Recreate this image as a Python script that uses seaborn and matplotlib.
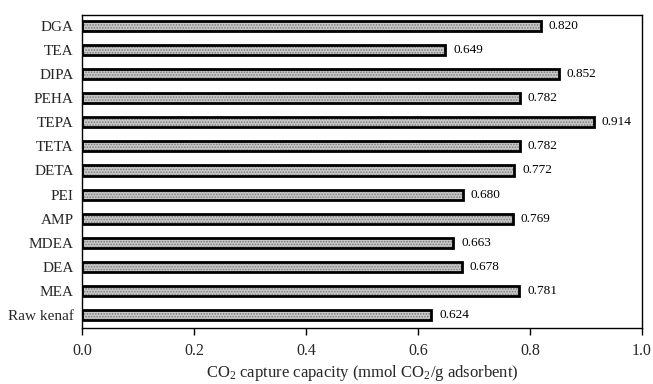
import matplotlib
matplotlib.use("Agg")
import matplotlib.pyplot as plt
import seaborn as sns
import pandas as pd

categories = ["DGA", "TEA", "DIPA", "PEHA", "TEPA", "TETA", "DETA", "PEI",
              "AMP", "MDEA", "DEA", "MEA", "Raw kenaf"]
values = [0.820, 0.649, 0.852, 0.782, 0.914, 0.782, 0.772, 0.680,
          0.769, 0.663, 0.678, 0.781, 0.624]
value_labels = ["0.820", "0.649", "0.852", "0.782", "0.914", "0.782", "0.772",
                "0.680", "0.769", "0.663", "0.678", "0.781", "0.624"]
xticks = [0.0, 0.2, 0.4, 0.6, 0.8, 1.0]

df = pd.DataFrame({"cat": categories, "val": values})

sns.set_theme(style="white")
plt.rcParams["font.family"] = ["Liberation Serif", "DejaVu Serif"]
plt.rcParams["mathtext.fontset"] = "custom"
plt.rcParams["mathtext.rm"] = "Liberation Serif"
plt.rcParams["mathtext.it"] = "Liberation Serif:italic"
plt.rcParams["hatch.linewidth"] = 0.8

fig = plt.figure(figsize=(6.53, 3.84), dpi=100)
ax = fig.add_axes([0.1256, 0.146, 0.8574, 0.815])

# hatched fill layer
sns.barplot(data=df, x="val", y="cat", orient="h", color="#c8c8c8",
            width=0.42, linewidth=0, ax=ax, errorbar=None)
for p in ax.patches:
    p.set_hatch("......")
    p.set_edgecolor("#7a7a7a")
    p.set_linewidth(0)
# black outline layer
sns.barplot(data=df, x="val", y="cat", orient="h", fill=False,
            width=0.42, linewidth=2.0, edgecolor="black", ax=ax, errorbar=None)

for i, (v, lab) in enumerate(zip(values, value_labels)):
    ax.text(v + 0.014, i, lab, va="center", ha="left", fontsize=9.5, color="black")

ax.set_xlim(0, 1.0)
ax.set_ylim(12.54, -0.46)
ax.set_xticks(xticks)
ax.set_xticklabels([f"{t:.1f}" for t in xticks])
ax.tick_params(axis="x", direction="out", length=5, width=1, color="black",
               labelsize=11.5, pad=6, bottom=True)
ax.tick_params(axis="y", length=0, labelsize=11, pad=6)
for s in ax.spines.values():
    s.set_visible(True)
    s.set_color("black")
    s.set_linewidth(1)
ax.set_ylabel("")
ax.set_xlabel("CO$_2$ capture capacity (mmol CO$_2$/g adsorbent)", fontsize=12)
ax.xaxis.label.set_va("center")
ax.xaxis.set_label_coords(0.5, -0.145)

fig.savefig("out.png", dpi=100)
